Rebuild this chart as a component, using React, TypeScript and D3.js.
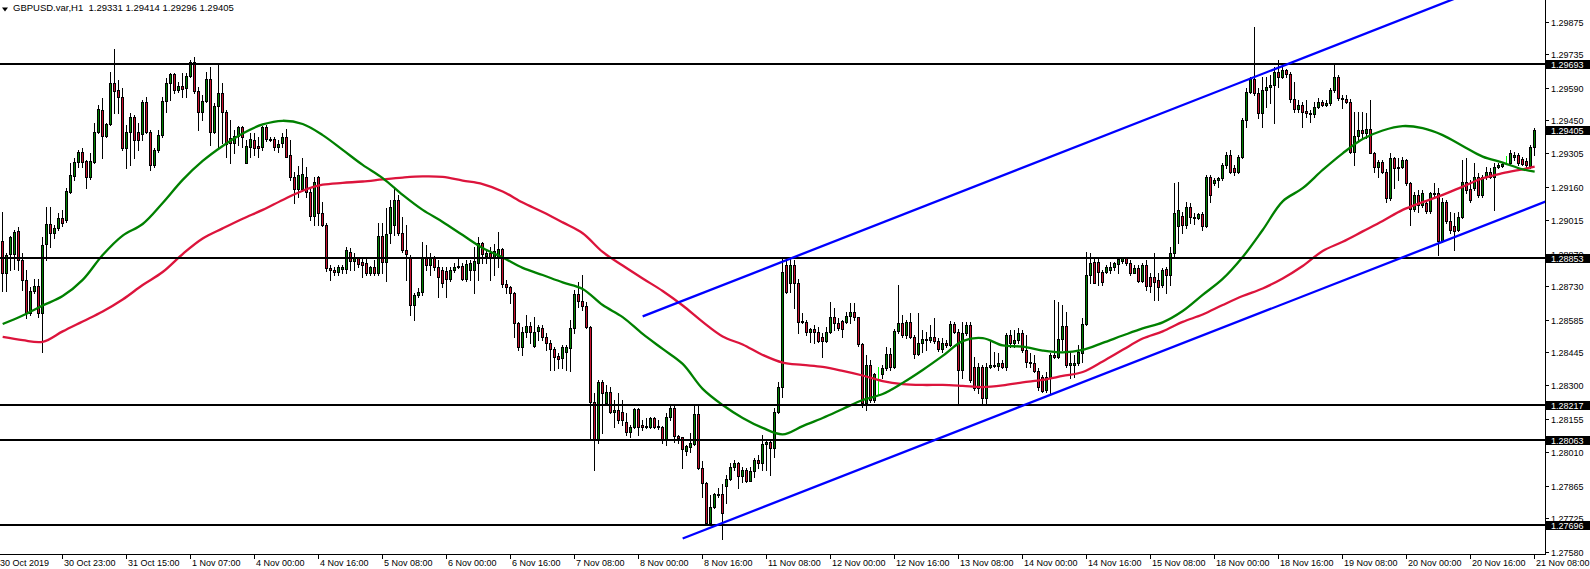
import React from "react";
import * as d3 from "d3";

const W = 1590;
const H = 569;
const PLOT_R = 1545;
const PLOT_B = 554;

const titleSymbol = "GBPUSD.var,H1";
const titleOHLC = ["1.29331", "1.29414", "1.29296", "1.29405"];

const priceTicks = [1.29875, 1.29735, 1.2959, 1.2945, 1.29305, 1.2916, 1.29015, 1.2887, 1.2873, 1.28585, 1.28445, 1.283, 1.28155, 1.2801, 1.27865, 1.27725, 1.2758];
const levelPrices = [1.29693, 1.28853, 1.28217, 1.28063, 1.27696];
const lastPrice = 1.29405;

const timeLabels = ["30 Oct 2019", "30 Oct 23:00", "31 Oct 15:00", "1 Nov 07:00", "4 Nov 00:00", "4 Nov 16:00", "5 Nov 08:00", "6 Nov 00:00", "6 Nov 16:00", "7 Nov 08:00", "8 Nov 00:00", "8 Nov 16:00", "11 Nov 08:00", "12 Nov 00:00", "12 Nov 16:00", "13 Nov 08:00", "14 Nov 00:00", "14 Nov 16:00", "15 Nov 08:00", "18 Nov 00:00", "18 Nov 16:00", "19 Nov 08:00", "20 Nov 00:00", "20 Nov 16:00", "21 Nov 08:00"];
const timeLabelBars = [-1, 15, 31, 47, 63, 79, 95, 111, 127, 143, 159, 175, 191, 207, 223, 239, 255, 271, 287, 303, 319, 335, 351, 367, 383];

// H1 bars, prices in points (1 point = 0.00001): [open, high, low, close]
const bars: number[][] = [
[128926,129050,128710,128786],[128786,128872,128710,128865],[128868,128945,128800,128941],[128869,128972,128803,128966],[128967,128985,128800,128843],
[128843,128872,128713,128757],[128757,128800,128593,128612],[128612,128728,128605,128709],[128710,128761,128699,128731],[128731,128760,128598,128612],
[128612,128944,128445,128908],[128911,129074,128843,128998],[128998,129074,128901,128959],[128959,128995,128937,128980],[128980,129045,128973,129024],
[129024,129060,128990,129005],[129016,129154,129009,129142],[129139,129262,129132,129211],[129207,129284,129190,129269],[129266,129320,129247,129310],
[129310,129327,129247,129266],[129272,129276,129154,129201],[129201,129305,129193,129272],[129269,129435,129265,129396],[129396,129514,129392,129496],
[129493,129543,129284,129381],[129381,129438,129377,129432],[129432,129659,129428,129611],[129611,129757,129481,129576],[129579,129623,129481,129550],
[129548,129587,129320,129330],[129330,129428,129243,129396],[129396,129478,129255,129464],[129464,129471,129284,129363],[129396,129435,129320,129363],
[129389,129536,129363,129526],[129526,129550,129392,129396],[129396,129406,129233,129255],[129255,129327,129247,129320],[129320,129406,129312,129384],
[129384,129550,129377,129532],[129532,129630,129485,129608],[129608,129654,129536,129647],[129647,129654,129565,129579],[129579,129615,129572,129597],
[129597,129652,129550,129582],[129587,129652,129550,129640],[129640,129709,129637,129701],[129701,129721,129565,129576],[129576,129594,129406,129485],
[129485,129558,129449,129533],[129533,129659,129529,129626],[129626,129680,129341,129399],[129399,129522,129394,129510],[129510,129695,129334,129565],
[129565,129608,129348,129485],[129485,129493,129290,129345],[129370,129449,129264,129348],[129348,129406,129305,129380],[129380,129423,129341,129418],
[129418,129425,129334,129377],[129262,129363,129262,129337],[129331,129392,129290,129366],[129363,129392,129298,129327],[129337,129377,129290,129327],
[129334,129423,129320,129418],[129418,129428,129360,129366],[129364,129377,129360,129367],[129366,129377,129320,129331],[129331,129363,129312,129345],
[129348,129392,129334,129375],[129375,129409,129288,129290],[129298,129363,129190,129201],[129201,129226,129091,129149],[129149,129250,129117,129211],
[129149,129284,129143,129214],[129204,129247,129117,129139],[129139,129161,129016,129035],[129035,129204,128995,129182],[129204,129207,128995,129045],
[129045,129096,128990,128995],[128995,129002,128797,128807],[128807,128822,128757,128800],[128800,128814,128778,128790],[128790,128822,128778,128812],
[128803,128822,128786,128814],[128803,128901,128786,128887],[128879,128894,128800,128840],[128840,128872,128800,128851],[128851,128856,128814,128826],
[128836,128851,128768,128822],[128831,128851,128778,128786],[128788,128816,128778,128812],[128812,128843,128778,128788],[128788,129002,128778,128947],
[128947,129002,128786,128836],[128836,129067,128754,128956],[128959,129103,128916,129074],[128995,129161,128951,129103],[129103,129125,128951,128959],
[128959,129031,128878,128887],[128887,128995,128757,128869],[128858,128866,128605,128648],[128648,128699,128583,128692],[128692,128722,128684,128706],
[128706,128922,128692,128851],[128851,128908,128800,128822],[128822,128872,128778,128858],[128858,128861,128800,128812],[128812,128843,128684,128768],
[128800,128812,128728,128745],[128797,128812,128682,128760],[128760,128814,128752,128800],[128800,128829,128791,128814],[128814,128851,128807,128817],
[128817,128829,128757,128761],[128761,128843,128752,128826],[128800,128843,128757,128832],[128800,128901,128699,128838],[128830,128944,128757,128916],
[128916,128922,128829,128869],[128860,128887,128829,128872],[128872,128900,128757,128851],[128851,128913,128778,128880],[128858,128966,128814,128890],
[128890,128894,128728,128739],[128739,128757,128699,128728],[128728,128731,128656,128702],[128702,128706,128511,128572],[128572,128576,128454,128465],
[128465,128554,128432,128533],[128533,128605,128511,128557],[128557,128576,128482,128533],[128472,128598,128468,128533],[128537,128562,128497,128554],
[128548,128562,128497,128509],[128509,128526,128454,128482],[128482,128497,128367,128456],[128456,128468,128367,128422],[128427,128439,128374,128416],
[128420,128475,128374,128465],[128446,128475,128367,128468],[128460,128583,128364,128548],[128548,128713,128526,128696],[128696,128749,128641,128667],
[128667,128778,128627,128644],[128644,128663,128550,128554],[128554,128558,128064,128230],[128230,128266,127934,128064],[128064,128324,128049,128316],
[128316,128324,128093,128266],[128223,128302,128215,128273],[128273,128295,128179,128184],[128184,128237,128121,128194],[128194,128266,128136,128150],
[128185,128237,128129,128150],[128143,128179,128085,128100],[128100,128129,128078,128121],[128119,128201,128114,128197],[128197,128201,128085,128121],
[128129,128150,128107,128121],[128121,128158,128115,128126],[128121,128162,128114,128158],[128158,128162,128114,128121],[128124,128150,128112,128119],
[128121,128124,128049,128067],[128067,128179,128042,128162],[128162,128215,128150,128201],[128201,128215,128056,128081],[128081,128085,128049,128071],
[128075,128078,127941,128023],[128017,128042,127999,128038],[128035,128093,128013,128049],[128047,128211,128042,128176],[128176,128211,127938,127941],
[127941,127974,127818,127879],[127879,127883,127700,127706],[127706,127826,127700,127775],[127775,127836,127768,127830],[127826,127855,127818,127830],
[127830,127873,127634,127746],[127866,127912,127790,127894],[127894,127966,127891,127946],[127946,127977,127934,127966],[127966,127970,127855,127908],
[127908,127948,127883,127934],[127934,127941,127883,127888],[127888,127946,127885,127931],[127931,127985,127905,127977],[127977,127999,127943,127963],
[127963,128085,127934,128047],[128047,128063,127934,128054],[128054,128060,127912,128028],[128028,128201,127992,128186],[128186,128316,128179,128295],
[128295,128858,128251,128793],[128822,128858,128699,128706],[128742,128851,128706,128822],[128822,128843,128634,128742],[128742,128760,128526,128576],
[128581,128612,128569,128576],[128576,128583,128518,128533],[128533,128548,128489,128543],[128543,128562,128482,128533],[128533,128552,128489,128494],
[128511,128526,128424,128494],[128494,128554,128490,128533],[128533,128663,128526,128595],[128595,128634,128540,128569],[128569,128591,128540,128548],
[128580,128583,128511,128543],[128576,128619,128569,128601],[128601,128656,128569,128619],[128619,128656,128583,128595],[128595,128598,128471,128480],
[128480,128482,128208,128223],[128223,128432,128194,128389],[128389,128410,128230,128237],[128237,128353,128230,128350],[128350,128381,128259,128350],
[128350,128389,128331,128374],[128374,128468,128367,128436],[128436,128461,128367,128381],[128381,128545,128374,128537],[128537,128735,128526,128572],
[128572,128605,128511,128518],[128518,128583,128504,128576],[128576,128612,128504,128511],[128511,128518,128418,128436],[128436,128612,128432,128482],
[128482,128540,128446,128502],[128502,128533,128454,128497],[128497,128562,128489,128511],[128511,128591,128482,128494],[128494,128504,128450,128456],
[128456,128504,128446,128482],[128482,128497,128468,128475],[128475,128579,128470,128565],[128565,128576,128526,128533],[128533,128543,128223,128367],
[128367,128576,128330,128528],[128528,128576,128518,128562],[128562,128576,128316,128324],[128381,128424,128280,128288],[128288,128396,128266,128381],
[128381,128389,128223,128244],[128244,128396,128223,128381],[128381,128497,128376,128389],[128389,128446,128378,128384],[128384,128439,128367,128396],
[128396,128410,128374,128381],[128381,128526,128367,128518],[128518,128540,128468,128482],[128482,128540,128468,128497],[128497,128548,128482,128528],
[128528,128540,128446,128454],[128454,128518,128381,128403],[128403,128439,128381,128399],[128399,128432,128360,128364],[128364,128374,128280,128295],
[128338,128345,128273,128277],[128280,128360,128273,128338],[128338,128439,128266,128432],[128432,128670,128418,128424],[128424,128663,128420,128500],
[128500,128648,128454,128557],[128557,128619,128381,128389],[128389,128446,128331,128396],[128390,128432,128338,128396],[128396,128475,128389,128445],
[128440,128591,128403,128566],[128566,128879,128562,128778],[128778,128872,128742,128830],[128836,128851,128742,128745],[128836,128851,128735,128793],
[128793,128800,128735,128749],[128793,128822,128786,128814],[128800,128836,128786,128814],[128812,128836,128800,128829],[128825,128858,128786,128848],
[128840,128858,128829,128850],[128851,128858,128822,128829],[128832,128843,128778,128788],[128788,128822,128786,128807],[128807,128822,128749,128754],
[128754,128829,128749,128822],[128822,128843,128713,128731],[128768,128786,128706,128731],[128768,128872,128670,128749],[128757,128786,128670,128728],
[128735,128807,128728,128800],[128803,128814,128699,128778],[128778,128901,128735,128872],[128872,129175,128860,129045],[128990,129182,128916,129060],
[129034,129052,128959,128995],[128995,129096,128980,129074],[129074,129091,129002,129031],[129031,129045,128999,129027],[129027,129048,129020,129042],
[129042,129052,128973,128990],[128990,129211,128985,129204],[129204,129211,129096,129125],[129175,129197,129168,129190],[129190,129204,129161,129197],
[129197,129262,129190,129255],[129255,129312,129240,129298],[129298,129320,129219,129226],[129240,129255,129211,129226],[129226,129298,129220,129290],
[129290,129457,129284,129449],[129449,129587,129420,129572],[129572,129637,129565,129626],[129626,129853,129558,129565],[129565,129587,129457,129481],
[129481,129637,129420,129579],[129579,129637,129507,129594],[129594,129644,129522,129601],[129601,129680,129435,129659],[129659,129709,129594,129637],
[129637,129680,129630,129666],[129666,129672,129637,129649],[129649,129659,129529,129539],[129539,129615,129485,129496],[129496,129536,129485,129514],
[129514,129529,129420,129485],[129490,129536,129464,129481],[129481,129493,129442,129475],[129475,129529,129464,129507],[129507,129543,129500,129529],
[129529,129536,129510,129514],[129514,129536,129510,129524],[129524,129587,129514,129579],[129579,129695,129572,129637],[129637,129644,129536,129543],
[129543,129558,129500,129539],[129539,129558,129522,129529],[129529,129539,129305,129312],[129312,129485,129255,129380],[129380,129485,129357,129406],
[129406,129485,129377,129392],[129392,129478,129370,129409],[129409,129536,129305,129308],[129308,129312,129226,129245],[129245,129276,129204,129269],
[129269,129276,129219,129226],[129226,129236,129096,129110],[129110,129305,129105,129284],[129284,129290,129154,129240],[129240,129284,129190,129247],
[129247,129290,129240,129276],[129276,129279,129168,129178],[129178,129182,128995,129063],[129063,129139,129057,129125],[129125,129146,129052,129081],
[129081,129146,129074,129132],[129091,129103,129045,129057],[129057,129139,129045,129132],[129128,129175,129117,129135],[129135,129154,128865,128927],
[128927,129110,128922,129096],[129096,129103,129002,129013],[129013,129052,128961,128973],[128990,129045,128887,128970],[128975,129052,128970,129031],
[129031,129276,129024,129182],[129182,129284,129132,129146],[129150,129190,129096,129103],[129154,129262,129146,129204],[129204,129219,129117,129125],
[129125,129211,129117,129204],[129204,129247,129193,129226],[129226,129240,129197,129204],[129204,129262,129060,129247],[129247,129262,129240,129255],
[129251,129269,129247,129259],[129262,129294,129259,129262],[129262,129320,129255,129308],[129290,129312,129276,129298],[129298,129305,129255,129262],
[129279,129290,129255,129259],[129270,129284,129240,129255],[129250,129341,129240,129334],[129331,129414,129296,129405]
];

// moving averages sampled every 5 bars (bar index list below)
const maBars = [0,5,10,15,20,25,30,35,40,45,50,55,60,65,70,75,80,85,90,95,100,105,110,115,120,125,130,135,140,145,150,155,160,165,170,175,180,185,190,195,200,205,210,215,220,225,230,235,240,245,250,255,260,265,270,275,280,285,290,295,300,305,310,315,320,325,330,335,340,345,350,355,360,365,370,375,380,383];
const maFast = [
1.28566,1.28603,1.28646,1.28687,1.28757,1.28865,1.28949,1.28999,1.2909,1.2919,
1.29272,1.29337,1.29391,1.2943,1.29446,1.29432,1.29384,1.2932,1.29255,1.29198,
1.29125,1.2906,1.29008,1.28951,1.28895,1.28854,1.28809,1.28778,1.28746,1.28718,
1.28648,1.28596,1.28523,1.28458,1.28393,1.28285,1.28215,1.28159,1.28116,1.28088,
1.28124,1.28159,1.28198,1.28237,1.28263,1.28311,1.28367,1.28428,1.28492,1.28505,
1.28473,1.28468,1.28451,1.28443,1.28454,1.28484,1.28516,1.28547,1.28573,1.28622,
1.28692,1.28761,1.28856,1.28973,1.29097,1.29154,1.29233,1.29305,1.29367,1.29404,
1.29423,1.29414,1.29384,1.29337,1.29291,1.29265,1.29236,1.29226];
const maSlow = [
1.2851,1.28496,1.28489,1.28534,1.28577,1.2862,1.28672,1.28735,1.28791,1.28869,
1.28936,1.2898,1.29022,1.2906,1.29103,1.29143,1.29169,1.29177,1.29183,1.29192,
1.292,1.29205,1.29203,1.29187,1.29172,1.2914,1.29092,1.29051,1.29006,1.28959,
1.28878,1.28819,1.28763,1.28709,1.28646,1.28575,1.28512,1.28477,1.28432,1.28399,
1.28389,1.2838,1.28363,1.28343,1.28319,1.28306,1.28302,1.28302,1.28298,1.28293,
1.283,1.28313,1.28324,1.28341,1.28358,1.28404,1.28454,1.28503,1.28534,1.28575,
1.28607,1.28648,1.28687,1.2872,1.28763,1.28817,1.28882,1.28922,1.28967,1.29012,
1.2906,1.29094,1.29125,1.29161,1.29197,1.29219,1.29236,1.29247];

// trend line anchors [bar index, price]
const trendUpper = [[160, 1.28599], [349, 1.2988]];
const trendLower = [[170, 1.27637], [383, 1.29078]];

const LFONT = "'Liberation Sans', Arial, sans-serif";
const BULL = "#008000";
const BEAR = "#c8102e";

export default function App() {
  const x = d3.scaleLinear().domain([0, 383]).range([2.67, 1534.67]);
  const y = d3.scaleLinear().domain([1.2757, 1.29969]).range([PLOT_B, 0]);
  const pt = (v: number) => v / 100000;

  const candles = bars.map((b, i) => {
    const [o, h0, l0, c] = b;
    const h = Math.max(h0, o, c);
    const l = Math.min(l0, o, c);
    const cx = Math.floor(x(i));
    const yH = Math.round(y(pt(h)));
    const yL = Math.round(y(pt(l)));
    const yO = Math.round(y(pt(o)));
    const yC = Math.round(y(pt(c)));
    if (o === c) {
      return (
        <g key={i}>
          <rect x={cx} y={yH} width={1} height={Math.max(1, yL - yH + 1)} fill="#00ff00" />
        </g>
      );
    }
    const top = Math.min(yO, yC);
    const bot = Math.max(yO, yC);
    const col = c > o ? BULL : BEAR;
    return (
      <g key={i}>
        <rect x={cx} y={yH} width={1} height={Math.max(1, yL - yH + 1)} fill="#000" />
        <rect x={cx - 1} y={top} width={3} height={bot - top + 1} fill="#000" />
        {bot - top - 1 > 0 && <rect x={cx} y={top + 1} width={1} height={bot - top - 1} fill={col} />}
      </g>
    );
  });

  const maLine = d3
    .line<number>()
    .x((_, i) => x(maBars[i]))
    .y((d) => y(d))
    .curve(d3.curveCatmullRom.alpha(0.5));

  const ray = (a: number[][]) => {
    const [[k1, p1], [k2, p2]] = a;
    const slope = (p2 - p1) / (k2 - k1);
    const kEnd = 460;
    return { x1: x(k1), y1: y(p1), x2: x(kEnd), y2: y(p1 + slope * (kEnd - k1)) };
  };
  const up = ray(trendUpper);
  const lo = ray(trendLower);

  return (
    <svg
      width={W}
      height={H}
      style={{ position: "absolute", left: 0, top: 0, background: "#fff" }}
      fontFamily={LFONT}
    >
      <defs>
        <clipPath id="plot">
          <rect x={0} y={0} width={PLOT_R} height={PLOT_B} />
        </clipPath>
      </defs>
      <rect x={0} y={0} width={W} height={H} fill="#fff" />
      <g clipPath="url(#plot)" shapeRendering="crispEdges">
        {candles}
      </g>
      <g clipPath="url(#plot)" fill="none">
        <path d={maLine(maSlow) || ""} stroke="#dc143c" strokeWidth={2.3} />
        <path d={maLine(maFast) || ""} stroke="#008000" strokeWidth={2.3} />
        {levelPrices.map((p, i) => (
          <line key={i} x1={0} x2={PLOT_R} y1={Math.round(y(p))} y2={Math.round(y(p))} stroke="#000" strokeWidth={2} shapeRendering="crispEdges" />
        ))}
        <line {...up} stroke="#0000ff" strokeWidth={2.3} />
        <line {...lo} stroke="#0000ff" strokeWidth={2.3} />
      </g>

      {/* title */}
      <path d="M2,7.5 L8,7.5 L5,11.5 Z" fill="#000" />
      <text x={13} y={11} fontSize={9.5} fill="#000" xmlSpace="preserve">
        {titleSymbol + "  " + titleOHLC.join(" ")}
      </text>

      {/* axes */}
      <g shapeRendering="crispEdges">
        <line x1={PLOT_R + 0.5} x2={PLOT_R + 0.5} y1={0} y2={PLOT_B + 1} stroke="#000" />
        <line x1={0} x2={PLOT_R + 1} y1={PLOT_B + 0.5} y2={PLOT_B + 0.5} stroke="#000" />
      </g>
      {priceTicks.map((p, i) => {
        const yy = Math.round(y(p));
        return (
          <g key={i}>
            <line x1={PLOT_R + 1} x2={PLOT_R + 4} y1={yy + 0.5} y2={yy + 0.5} stroke="#000" shapeRendering="crispEdges" />
            <text x={1551} y={yy + 3.5} fontSize={9} fill="#000">
              {p.toFixed(5)}
            </text>
          </g>
        );
      })}
      {[...levelPrices, lastPrice].map((p, i) => {
        const yy = Math.round(y(p));
        return (
          <g key={"lv" + i}>
            <rect x={PLOT_R + 1} y={yy - 4} width={W - PLOT_R - 1} height={9} fill="#000" shapeRendering="crispEdges" />
            <text x={1551} y={yy + 3.5} fontSize={9} fill="#fff">
              {p.toFixed(5)}
            </text>
          </g>
        );
      })}

      {timeLabels.map((t, i) => {
        const xx = Math.floor(x(timeLabelBars[i]));
        return (
          <g key={"t" + i}>
            <line x1={xx + 0.5} x2={xx + 0.5} y1={PLOT_B} y2={PLOT_B + 5} stroke="#000" shapeRendering="crispEdges" />
            <text x={xx + 2} y={566} fontSize={9} fill="#000">
              {t}
            </text>
          </g>
        );
      })}
    </svg>
  );
}
